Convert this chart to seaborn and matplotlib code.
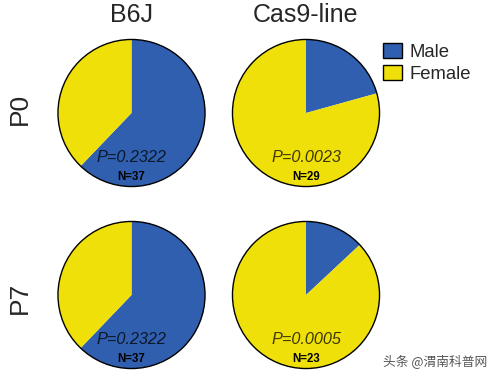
import numpy as np
import pandas as pd
import matplotlib
matplotlib.use("Agg")
import matplotlib.pyplot as plt
import seaborn as sns
from matplotlib.patches import Patch, Circle

sns.set_theme(style="white")
plt.rcParams['font.family'] = ['Liberation Sans', 'Noto Sans CJK SC', 'DejaVu Sans']

strains = ["B6J", "Cas9-line"]
stages = ["P0", "P7"]
sexes = ["Male", "Female"]
male = [[23, 6], [23, 3]]
female = [[14, 23], [14, 20]]
pvals = [["P=0.2322", "P=0.0023"], ["P=0.2322", "P=0.0005"]]
colors = ["#2f5fae", "#f0e00a"]

W, H = 498, 378
fig = plt.figure(figsize=(W / 100, H / 100), dpi=100)

cx = [131.5, 306]
cy = [113, 295]
R = 75

for i, stage in enumerate(stages):
    for j, strain in enumerate(strains):
        ax = fig.add_axes([(cx[j] - R) / W, (H - cy[i] - R) / H, 2 * R / W, 2 * R / H])
        ax.pie([male[i][j], female[i][j]], colors=colors, startangle=90,
               counterclock=False, radius=1, wedgeprops=dict(linewidth=0))
        ax.add_patch(Circle((0, 0), 1, fill=False, edgecolor="black", linewidth=1.0))
        ax.set_xlim(-1.02, 1.02)
        ax.set_ylim(-1.02, 1.02)
        ax.set_aspect("equal")
        ax.axis("off")
        n = male[i][j] + female[i][j]
        ax.text(0, -0.6, pvals[i][j], ha="center", va="center", fontsize=11.7,
                style="italic", color="black", alpha=0.75)
        ax.text(0, -0.87, "N=%d" % n, ha="center", va="center", fontsize=8.3,
                fontweight="bold", color="black")

for j, strain in enumerate(strains):
    fig.text(cx[j] / W, 1 - 15 / H, strain, ha="center", va="center", fontsize=18)

row_y = [109, 298]
for i, stage in enumerate(stages):
    fig.text(20 / W, 1 - row_y[i] / H, stage, ha="center", va="center", fontsize=19,
             rotation=90)

handles = [Patch(facecolor=colors[k], edgecolor="black", linewidth=1) for k in range(2)]
fig.legend(handles, sexes, loc="upper left", bbox_to_anchor=(377 / W, 1 - 37 / H),
           frameon=False, fontsize=13.3, handlelength=1.03, handleheight=0.95,
           handletextpad=0.45, labelspacing=0.2, borderaxespad=0, borderpad=0.3)

fig.text(383 / W, 1 - 362 / H, "头条 @渭南科普网", ha="left", va="center", fontsize=9.2,
         color="#555555", family=['Noto Sans CJK SC', 'DejaVu Sans'])

fig.savefig("out.png", dpi=100)
